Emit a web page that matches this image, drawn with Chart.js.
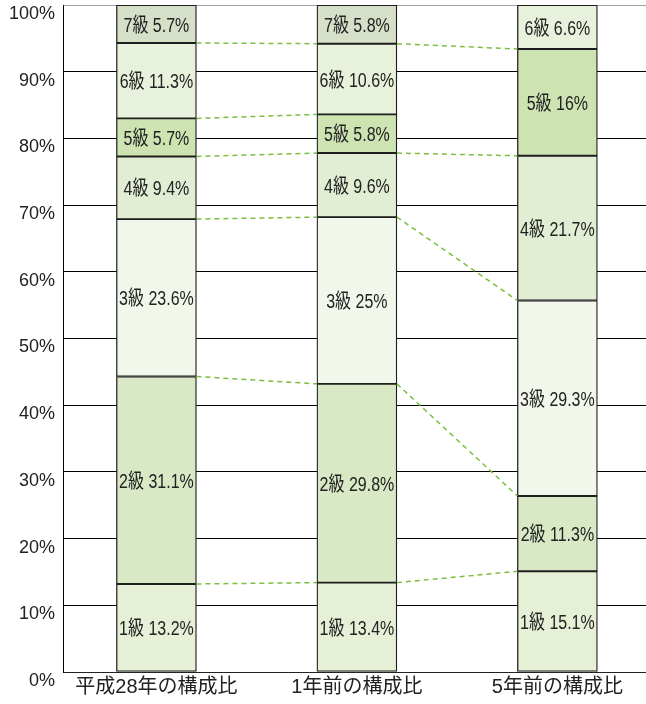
<!DOCTYPE html>
<html lang="ja">
<head>
<meta charset="utf-8">
<title>構成比</title>
<script src="https://cdn.jsdelivr.net/npm/chart.js@4.4.1/dist/chart.umd.min.js"></script>
<style>
  html, body { margin: 0; padding: 0; background: #fff; }
  canvas { display: block; }
</style>
</head>
<body>
<canvas id="grafico" width="646" height="704"></canvas>
<script>
// categorías del eje X
const categorias = ["平成28年の構成比", "1年前の構成比", "5年前の構成比"];

// nombres de cada nivel (de abajo hacia arriba)
const niveles = ["1級", "2級", "3級", "4級", "5級", "6級", "7級"];

// valores (%) por nivel, uno por categoría
const nivel1 = [13.2, 13.4, 15.1];
const nivel2 = [31.1, 29.8, 11.3];
const nivel3 = [23.6, 25, 29.3];
const nivel4 = [9.4, 9.6, 21.7];
const nivel5 = [5.7, 5.8, 16];
const nivel6 = [11.3, 10.6, 6.6];
const nivel7 = [5.7, 5.8, null];

// ticks del eje Y
const ticksY = [0, 10, 20, 30, 40, 50, 60, 70, 80, 90, 100];

// líneas punteadas entre barras: [barra izq, nivel izq, barra der, nivel der]
const conectores = [
  [0, 0, 1, 0], [0, 1, 1, 1], [0, 2, 1, 2], [0, 3, 1, 3], [0, 4, 1, 4], [0, 5, 1, 5],
  [1, 0, 2, 0], [1, 1, 2, 1], [1, 2, 2, 2], [1, 3, 2, 3], [1, 5, 2, 4]
];

const colores = ["#e6f0d7", "#d9e8c5", "#f2f7ec", "#e2eed3", "#cde3b1", "#e8f1db", "#d6dfc8"];

const series = [nivel1, nivel2, nivel3, nivel4, nivel5, nivel6, nivel7];

const fuente = '"Liberation Sans", Arial, "Noto Sans CJK JP", sans-serif';

const datasets = series.map((valores, i) => ({
  label: niveles[i],
  data: valores.map((v, j) => ({ x: j, y: v })),
  backgroundColor: colores[i],
  borderColor: "#1e1e1e",
  borderWidth: 1.3,
  borderSkipped: false,
  barThickness: 80
}));

// dibuja las líneas punteadas y las etiquetas de cada segmento
const pluginExtras = {
  id: "extras",
  afterDatasetsDraw(chart) {
    const ctx = chart.ctx;

    ctx.save();
    ctx.strokeStyle = "#7bbf3f";
    ctx.lineWidth = 1.5;
    ctx.setLineDash([5, 4]);
    conectores.forEach(([b1, n1, b2, n2]) => {
      const a = chart.getDatasetMeta(n1).data[b1];
      const b = chart.getDatasetMeta(n2).data[b2];
      ctx.beginPath();
      ctx.moveTo(a.x + a.width / 2, a.y);
      ctx.lineTo(b.x - b.width / 2, b.y);
      ctx.stroke();
    });
    ctx.restore();

    // etiquetas comprimidas horizontalmente como en el original
    ctx.save();
    ctx.font = "20px " + fuente;
    ctx.fillStyle = "#222";
    ctx.textAlign = "center";
    ctx.textBaseline = "middle";
    const escala = 0.8;
    series.forEach((valores, i) => {
      const meta = chart.getDatasetMeta(i);
      valores.forEach((v, j) => {
        if (v === null) return;
        const bar = meta.data[j];
        const y = (bar.y + bar.base) / 2 + 2;
        ctx.save();
        ctx.scale(escala, 1);
        ctx.fillText(niveles[i] + " " + v + "%", bar.x / escala, y);
        ctx.restore();
      });
    });
    ctx.restore();
  }
};

new Chart(document.getElementById("grafico"), {
  type: "bar",
  data: { datasets: datasets },
  plugins: [pluginExtras],
  options: {
    responsive: false,
    animation: false,
    layout: { padding: { top: 5, right: 0, left: 0, bottom: 0 } },
    plugins: {
      legend: { display: false },
      tooltip: { enabled: false }
    },
    scales: {
      x: {
        type: "linear",
        stacked: true,
        offset: false,
        min: -0.466,
        max: 2.442,
        grid: { display: false, drawTicks: false },
        border: { display: true, color: "#222", width: 1 },
        afterBuildTicks: s => { s.ticks = categorias.map((c, i) => ({ value: i })); },
        afterFit: s => { s.height = 32; s.paddingLeft = 0; s.paddingRight = 0; },
        ticks: {
          padding: 3,
          color: "#222",
          font: { size: 20, family: fuente },
          callback: v => categorias[v]
        }
      },
      y: {
        stacked: true,
        min: 0,
        max: 100,
        afterBuildTicks: s => { s.ticks = ticksY.map(v => ({ value: v })); },
        afterFit: s => { s.width = 63; s.paddingTop = 0; s.paddingBottom = 0; },
        grid: {
          drawTicks: false,
          color: c => (c.tick && c.tick.value === 100 ? "#a0a0a0" : "#000"),
          lineWidth: 1
        },
        border: { display: true, color: "#000", width: 1 },
        ticks: {
          padding: 8,
          labelOffset: 9,
          color: "#222",
          font: { size: 18, family: fuente },
          callback: v => v + "%"
        }
      }
    }
  }
});
</script>
</body>
</html>
